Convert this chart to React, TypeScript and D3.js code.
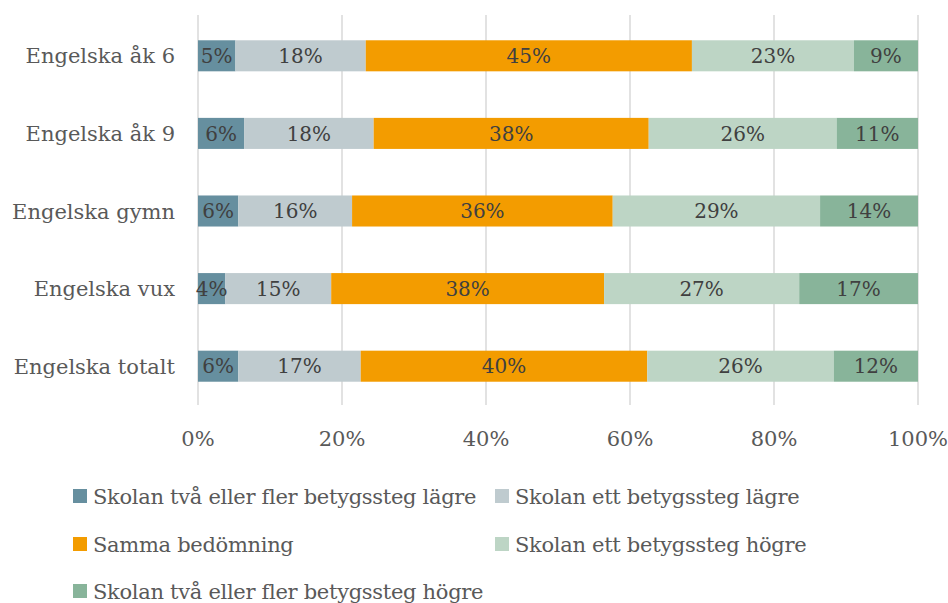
import React from "react";
import * as d3 from "d3";

// categories (top to bottom)
const categories = [
  "Engelska åk 6",
  "Engelska åk 9",
  "Engelska gymn",
  "Engelska vux",
  "Engelska totalt",
];

// series names
const seriesNames = [
  "Skolan två eller fler betygssteg lägre",
  "Skolan ett betygssteg lägre",
  "Samma bedömning",
  "Skolan ett betygssteg högre",
  "Skolan två eller fler betygssteg högre",
];

// percent values per series, one entry per category
const twoLower = [5.2, 6.4, 5.6, 3.8, 5.6];
const oneLower = [18.1, 18.0, 15.8, 14.7, 17.0];
const same = [45.3, 38.2, 36.2, 37.9, 39.8];
const oneHigher = [22.5, 26.1, 28.8, 27.1, 25.9];
const twoHigher = [8.9, 11.3, 13.6, 16.5, 11.7];

const xTicks = [0, 20, 40, 60, 80, 100];

const colors = ["#668f9f", "#bfcbcf", "#f39c00", "#bdd5c5", "#88b49a"];

const W = 948;
const H = 603;
const FONT = "'DejaVu Serif', serif";

const App = () => {
  const seriesValues = [twoLower, oneLower, same, oneHigher, twoHigher];
  const rows = categories.map((c, i) => {
    const r: any = {cat: c};
    seriesNames.forEach((s, j) => (r[s] = seriesValues[j][i]));
    return r;
  });
  const stacked = d3.stack().keys(seriesNames)(rows);

  const x = d3.scaleLinear().domain([0, 100]).range([198, 918]);
  const y = d3
    .scaleBand()
    .domain(categories)
    .range([17, 405])
    .paddingInner(0.6)
    .paddingOuter(0.3);

  // legend placement
  const legendCols = [73, 495];
  const legendRows = [496, 544, 591];

  return (
    <svg
      width={W}
      height={H}
      style={{position: "absolute", left: 0, top: 0, background: "#fff"}}
      fontFamily={FONT}
    >
      {/* gridlines */}
      {xTicks.map((t) => (
        <line
          key={t}
          x1={x(t)}
          x2={x(t)}
          y1={15}
          y2={405}
          stroke="#d9d9d9"
          strokeWidth={1.5}
        />
      ))}

      {/* bars */}
      {stacked.map((layer, j) => (
        <g key={layer.key} fill={colors[j]}>
          {layer.map((d, i) => (
            <rect
              key={i}
              x={x(d[0])}
              y={y(categories[i])}
              width={x(d[1]) - x(d[0])}
              height={y.bandwidth()}
            />
          ))}
        </g>
      ))}

      {/* data labels */}
      {stacked.map((layer, j) => (
        <g key={"l" + layer.key} fill="#404040" fontSize={20} textAnchor="middle">
          {layer.map((d, i) => (
            <text
              key={i}
              x={(x(d[0]) + x(d[1])) / 2}
              y={y(categories[i])! + y.bandwidth() / 2}
              dy="0.36em"
            >
              {Math.round(d[1] - d[0])}%
            </text>
          ))}
        </g>
      ))}

      {/* category labels */}
      {categories.map((c) => (
        <text
          key={c}
          x={175}
          y={y(c)! + y.bandwidth() / 2}
          dy="0.36em"
          textAnchor="end"
          fontSize={21}
          fill="#595959"
        >
          {c}
        </text>
      ))}

      {/* x axis labels */}
      {xTicks.map((t) => (
        <text
          key={"t" + t}
          x={x(t)}
          y={438}
          dy="0.36em"
          textAnchor="middle"
          fontSize={21}
          fill="#595959"
        >
          {t}%
        </text>
      ))}

      {/* legend */}
      {seriesNames.map((s, j) => {
        const lx = legendCols[j % 2];
        const ly = legendRows[Math.floor(j / 2)];
        return (
          <g key={"lg" + s}>
            <rect x={lx} y={ly - 7} width={14} height={14} fill={colors[j]} />
            <text
              x={lx + 20}
              y={ly}
              dy="0.36em"
              fontSize={21}
              fill="#595959"
              style={{letterSpacing: "-0.3px"}}
            >
              {s}
            </text>
          </g>
        );
      })}
    </svg>
  );
};

export default App;
